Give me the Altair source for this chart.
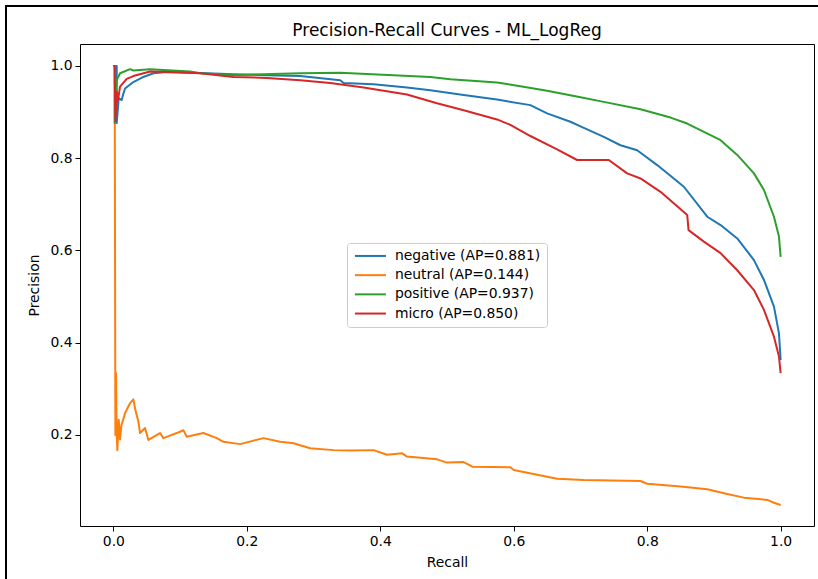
import altair as alt
import pandas as pd

# ---- data ----
neg_recall = [0.0, 0.005, 0.005, 0.008, 0.0125, 0.015, 0.0175, 0.03, 0.045, 0.06, 0.08, 0.12, 0.18, 0.23,
              0.28, 0.34, 0.345, 0.39, 0.44, 0.475, 0.525, 0.575, 0.625, 0.65, 0.685, 0.70, 0.735, 0.76,
              0.785, 0.815, 0.855, 0.89, 0.91, 0.935, 0.96, 0.975, 0.99, 0.9975, 1.0]
neg_prec = [1.0, 1.0, 0.876, 0.93, 0.926, 0.94, 0.951, 0.965, 0.976, 0.984, 0.987, 0.985, 0.982, 0.98,
            0.978, 0.969, 0.963, 0.96, 0.953, 0.947, 0.937, 0.927, 0.915, 0.897, 0.879, 0.869, 0.846, 0.828,
            0.817, 0.785, 0.738, 0.673, 0.655, 0.626, 0.579, 0.536, 0.478, 0.42, 0.362]

neu_recall = [0.0, 0.002, 0.003, 0.004, 0.005, 0.006, 0.008, 0.01, 0.012, 0.0177, 0.025, 0.030, 0.033,
              0.0375, 0.040, 0.0475, 0.0525, 0.07, 0.075, 0.095, 0.105, 0.11, 0.135, 0.155, 0.165, 0.19,
              0.225, 0.25, 0.27, 0.295, 0.33, 0.355, 0.39, 0.41, 0.433, 0.44, 0.485, 0.50, 0.525, 0.538,
              0.595, 0.60, 0.665, 0.705, 0.79, 0.80, 0.85, 0.89, 0.92, 0.945, 0.98, 0.99, 1.0]
neu_prec = [1.0, 1.0, 0.2, 0.334, 0.2, 0.167, 0.233, 0.19, 0.22, 0.248, 0.269, 0.277, 0.254,
            0.229, 0.204, 0.215, 0.189, 0.204, 0.193, 0.204, 0.21, 0.196, 0.204, 0.193, 0.185, 0.18,
            0.193, 0.185, 0.182, 0.171, 0.167, 0.166, 0.167, 0.157, 0.160, 0.153, 0.147, 0.14, 0.141, 0.131,
            0.130, 0.124, 0.105, 0.102, 0.100, 0.094, 0.088, 0.082, 0.072, 0.064, 0.059, 0.053, 0.048]

pos_recall = [0.0, 0.002, 0.002, 0.005, 0.01, 0.025, 0.03, 0.055, 0.115, 0.13, 0.18, 0.28, 0.34, 0.475,
              0.505, 0.575, 0.61, 0.65, 0.70, 0.735, 0.79, 0.835, 0.86, 0.91, 0.935, 0.96, 0.975, 0.99,
              0.9975, 1.0]
pos_prec = [1.0, 1.0, 0.876, 0.969, 0.984, 0.993, 0.99, 0.993, 0.988, 0.984, 0.98, 0.984, 0.985, 0.976,
            0.971, 0.964, 0.956, 0.946, 0.932, 0.922, 0.906, 0.888, 0.875, 0.839, 0.807, 0.767, 0.731, 0.673,
            0.63, 0.586]

mic_recall = [0.0, 0.002, 0.003, 0.005, 0.007, 0.01, 0.02, 0.03, 0.055, 0.08, 0.13, 0.18, 0.23, 0.28,
              0.325, 0.375, 0.44, 0.485, 0.525, 0.575, 0.595, 0.625, 0.665, 0.695, 0.7425, 0.77, 0.79,
              0.82, 0.86, 0.862, 0.885, 0.91, 0.935, 0.96, 0.975, 0.99, 0.9975, 1.0]
mic_prec = [1.0, 1.0, 0.88, 0.944, 0.926, 0.955, 0.972, 0.978, 0.988, 0.987, 0.984, 0.976, 0.974, 0.969,
            0.963, 0.953, 0.938, 0.919, 0.904, 0.884, 0.872, 0.848, 0.819, 0.796, 0.796, 0.767, 0.756,
            0.727, 0.677, 0.644, 0.619, 0.594, 0.557, 0.514, 0.471, 0.413, 0.37, 0.334]

series_names = ["negative (AP=0.881)", "neutral (AP=0.144)", "positive (AP=0.937)", "micro (AP=0.850)"]
series_colors = ["#1f77b4", "#ff7f0e", "#2ca02c", "#d62728"]
series_widths = [2.0, 2.0, 2.0, 2.8]
x_ticks = [0.0, 0.2, 0.4, 0.6, 0.8, 1.0]
y_ticks = [0.2, 0.4, 0.6, 0.8, 1.0]

rows = []
for name, rec, pre in zip(series_names,
                          [neg_recall, neu_recall, pos_recall, mic_recall],
                          [neg_prec, neu_prec, pos_prec, mic_prec]):
    for i, (r, p) in enumerate(zip(rec, pre)):
        rows.append({"series": name, "recall": r, "precision": p, "i": i})
df = pd.DataFrame(rows)

FONT = "DejaVu Sans"

lines = alt.Chart(df).mark_line(clip=True, strokeJoin="round").encode(
    x=alt.X("recall:Q", scale=alt.Scale(domain=[-0.05, 1.05], nice=False, zero=False),
            axis=alt.Axis(values=x_ticks, format=".1f", title="Recall")),
    y=alt.Y("precision:Q", scale=alt.Scale(domain=[0.0025, 1.0475], nice=False, zero=False),
            axis=alt.Axis(values=y_ticks, format=".1f", title="Precision")),
    color=alt.Color("series:N", sort=series_names,
                    scale=alt.Scale(domain=series_names, range=series_colors),
                    legend=alt.Legend(title=None, orient="none", legendX=267, legendY=199,
                                      symbolType="M-1,0H5.2", symbolSize=100, symbolStrokeWidth=2,
                                      labelFont=FONT, labelFontSize=13.9, labelColor="#000000",
                                      labelOffset=28, rowPadding=4.2, padding=6,
                                      fillColor="white", strokeColor="#cccccc", cornerRadius=3)),
    strokeWidth=alt.StrokeWidth("series:N", scale=alt.Scale(domain=series_names, range=series_widths),
                                legend=None),
    order=alt.Order("i:Q"),
    detail="series:N",
)

# image frame (top and left border of the screenshot)
frame_top = alt.Chart(pd.DataFrame({"k": [0]})).mark_rule(color="#000000", strokeWidth=2).encode(
    x=alt.value(-75), x2=alt.value(740), y=alt.value(-38))
frame_left = alt.Chart(pd.DataFrame({"k": [0]})).mark_rule(color="#000000", strokeWidth=2).encode(
    x=alt.value(-74), y=alt.value(-38), y2=alt.value(540))

chart = alt.layer(lines, frame_top, frame_left).properties(
    width=734, height=482,
    title=alt.Title("Precision-Recall Curves - ML_LogReg", font=FONT, fontSize=17,
                    fontWeight="normal", color="#000000", offset=0, dy=35),
    autosize=alt.AutoSizeParams(type="none"),
    padding={"left": 80, "top": 44, "right": 4, "bottom": 53},
    background="white",
).configure_view(
    stroke="#000000", strokeWidth=1
).configure_axis(
    domain=False, grid=False, ticks=True, tickColor="#000000", tickSize=5, tickWidth=1,
    labelFont=FONT, labelFontSize=13.9, labelColor="#000000", labelPadding=3,
    titleFont=FONT, titleFontSize=13.9, titleColor="#000000", titleFontWeight="normal",
).configure_axisX(titlePadding=8).configure_axisY(titlePadding=8)

chart.save("out.html", embed_options={"renderer": "svg", "actions": False})
